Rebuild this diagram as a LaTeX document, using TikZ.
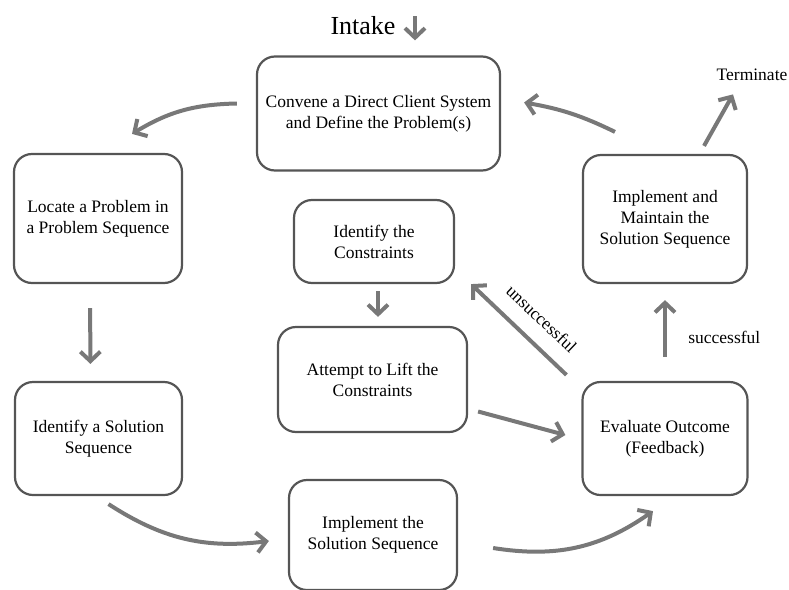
\documentclass[tikz,border=0pt]{standalone}
\usepackage{fontspec}
\setmainfont{Liberation Serif}
\usetikzlibrary{arrows.meta}

\definecolor{boxline}{RGB}{85,85,85}
\definecolor{flowgray}{RGB}{120,120,120}

\tikzset{
  stage/.style={draw=boxline, line width=2.2pt, rounded corners=18pt,
    align=center, inner sep=0pt, font=\rmfamily\fontsize{17.5}{21}\selectfont},
  flow/.style={draw=flowgray, line width=4pt,
    -{Straight Barb[length=9.5pt,width=20pt]}},
  tag/.style={font=\rmfamily\fontsize{17.5}{21}\selectfont}
}

\begin{document}
\begin{tikzpicture}[x=1pt, y=-1pt]
    \useasboundingbox (0,0) rectangle (789,589);

    % Intake and the first stage
    \node[font=\rmfamily\fontsize{26}{30}\selectfont] (intake) at (363,26) {Intake};
    \node[stage, minimum width=243pt, minimum height=114pt] (convene) at (378.5,113.5)
      {Convene a Direct Client System\\and Define the Problem(s)};
    \coordinate (intakein) at (415,16);
    \draw[flow] (intakein) -- (intakein |- convene.north) [shorten >=15pt];

    % Left column
    \node[stage, minimum width=168pt, minimum height=129pt] (locate) at (98,218.5)
      {Locate a Problem in\\a Problem Sequence};
    \node[stage, minimum width=167pt, minimum height=113pt] (idsol) at (98.5,438.5)
      {Identify a Solution\\Sequence};

    % Middle column
    \node[stage, minimum width=160pt, minimum height=83pt] (constr) at (374,241.5)
      {Identify the\\Constraints};
    \node[stage, minimum width=189pt, minimum height=105pt] (attempt) at (372.5,379.5)
      {Attempt to Lift the\\Constraints};
    \node[stage, minimum width=168pt, minimum height=110pt] (impl) at (373,535)
      {Implement the\\Solution Sequence};

    % Right column
    \node[stage, minimum width=165pt, minimum height=113pt] (eval) at (665,438.5)
      {Evaluate Outcome\\(Feedback)};
    \node[stage, minimum width=164pt, minimum height=128pt] (maintain) at (665,219)
      {Implement and\\Maintain the\\Solution Sequence};
    \node[tag] (term) at (752,75) {Terminate};

    % Cycle arrows
    \draw[flow] ([shift={(-19,-10)}]convene.west) to[bend right=15] ([shift={(34,-19)}]locate.north);
    \draw[flow, shorten <=24pt, shorten >=17pt] ([xshift=-8pt]locate.south) -- ([xshift=-8pt]idsol.north);
    \draw[flow] ([shift={(10,8)}]idsol.south) to[bend right=20] ([shift={(-19,6)}]impl.west);
    \draw[flow] ([shift={(35,13)}]impl.east) to[bend right=22] ([shift={(-12,15)}]eval.south);
    \draw[flow] ([shift={(10,32)}]attempt.east) -- ([shift={(-16,-3.5)}]eval.west);
    \draw[flow, shorten <=7pt, shorten >=9pt] ([xshift=4pt]constr.south) -- ([xshift=4pt]constr.south |- attempt.north);
    \draw[flow] ([shift={(-15,-6)}]eval.north west) -- ([shift={(16,0)}]constr.south east)
      node[tag, pos=0.43, sloped, above=12pt] {unsuccessful};
    \draw[flow, shorten <=24pt, shorten >=16pt] (eval.north) -- (maintain.south)
      node[tag, pos=0.45, right=18pt] {successful};
    \draw[flow] ([shift={(-50,-22)}]maintain.north) to[bend right=8] ([shift={(23,-11)}]convene.east);
    \draw[flow] ([shift={(39,-8)}]maintain.north) -- ([shift={(-19,10)}]term.south);
  \end{tikzpicture}
\end{document}
